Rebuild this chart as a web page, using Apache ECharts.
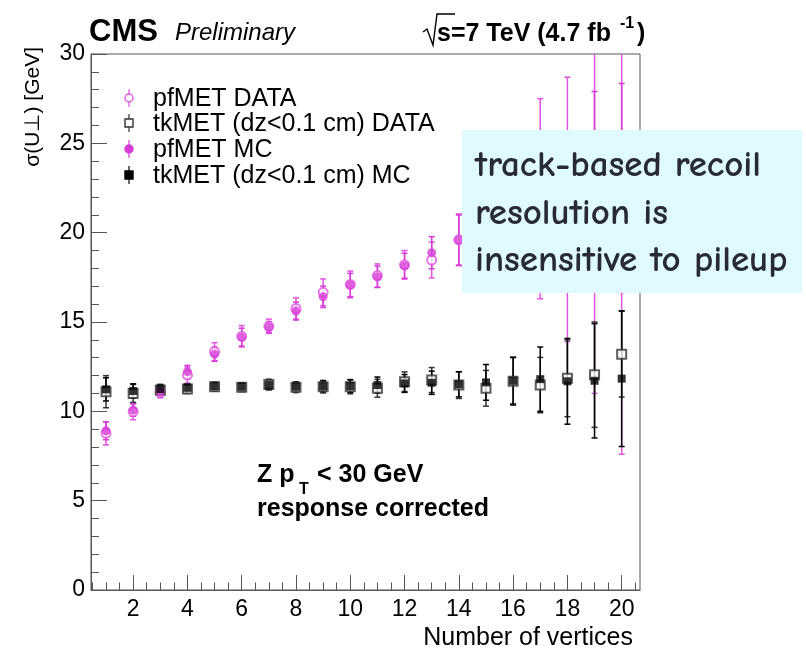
<!DOCTYPE html>
<html><head><meta charset="utf-8">
<script src="https://cdn.jsdelivr.net/npm/echarts@6/dist/echarts.min.js"></script>
<style>html,body{margin:0;padding:0;background:#fff}#c{width:806px;height:650px}</style>
</head><body><div id="c"></div>
<script>
const nVertices = [1,2,3,4,5,6,7,8,9,10,11,12,13,14,15,16,17,18,19,20];
const pfData    = [8.77,9.98,11.05,12.03,13.34,14.2,14.76,15.76,16.66,17.1,17.6,18.2,18.47,19.6,20.6,21.2,21.9,21.3,20.9,19.5];
const pfDataErr = [0.65,0.45,0.3,0.45,0.5,0.6,0.4,0.6,0.75,0.75,0.65,0.8,1.0,1.45,2.2,3.3,5.6,7.4,9.9,11.9];
const tkData    = [11.1,11.0,11.2,11.25,11.38,11.35,11.5,11.35,11.38,11.38,11.29,11.66,11.75,11.47,11.29,11.69,11.47,11.85,12.05,13.2];
const tkDataErr = [0.9,0.5,0.3,0.25,0.25,0.25,0.3,0.3,0.35,0.4,0.5,0.55,0.7,0.75,1.0,1.35,1.55,2.15,2.95,2.4];
const pfMC      = [8.91,10.07,11.12,12.22,13.2,14.15,14.72,15.61,16.41,17.07,17.53,18.15,18.88,19.59,20.3,20.9,21.5,21.9,22.4,22.5];
const pfMCErr   = [0.5,0.35,0.25,0.35,0.4,0.5,0.3,0.5,0.6,0.65,0.6,0.7,0.9,1.4,1.7,2.2,3.0,3.6,5.5,5.85];
const tkMC      = [11.23,11.14,11.25,11.32,11.41,11.38,11.47,11.38,11.4,11.41,11.47,11.56,11.6,11.51,11.62,11.71,11.8,11.68,11.71,11.83];
const tkMCErr   = [0.65,0.4,0.25,0.2,0.2,0.2,0.25,0.25,0.3,0.35,0.45,0.5,0.65,0.7,1.0,1.3,1.8,2.4,3.2,3.8];
const xMajorTicks = [2,4,6,8,10,12,14,16,18,20];
const xMinorTicks = [0.5,1,1.5,2,2.5,3,3.5,4,4.5,5,5.5,6,6.5,7,7.5,8,8.5,9,9.5,10,10.5,11,11.5,12,12.5,13,13.5,14,14.5,15,15.5,16,16.5,17,17.5,18,18.5,19,19.5,20,20.5];
const legendNames = ['pfMET DATA','tkMET (dz<0.1 cm) DATA','pfMET MC','tkMET (dz<0.1 cm) MC'];

const MAG_D = '#e055e0', MAG_M = '#d63cd6', BLK_D = '#333333', BLK_M = '#000000';
const FONT = '"Liberation Sans", Arial, Helvetica, sans-serif';
const NOTE_FONT = 'bold 37px "Comic Neue", "Noto Sans", sans-serif';

function pts(vals){ return nVertices.map((x,i)=>[x, vals[i]]); }
function errs(vals, e){ return nVertices.map((x,i)=>[x, vals[i], e[i]]); }

function errSeries(name, vals, e, color, z){
  return {
    type:'custom', name: name+' err', clip:true, z:z, silent:true,
    data: errs(vals, e), encode:{x:0,y:1},
    renderItem: function(params, api){
      const x = api.value(0), v = api.value(1), d = api.value(2);
      const t = api.coord([x, v+d]), b = api.coord([x, v-d]);
      const st = {stroke: color, lineWidth: 1.5};
      return {type:'group', children:[
        {type:'line', shape:{x1:t[0],y1:t[1],x2:b[0],y2:b[1]}, style:st},
        {type:'line', shape:{x1:t[0]-3,y1:t[1],x2:t[0]+3,y2:t[1]}, style:st},
        {type:'line', shape:{x1:b[0]-3,y1:b[1],x2:b[0]+3,y2:b[1]}, style:st}
      ]};
    }
  };
}
function markSeries(name, vals, symbol, size, color, z, empty){
  return {
    type:'scatter', name:name, data: pts(vals), symbol: symbol, symbolSize: size, z:z,
    itemStyle: empty ? {color: color, borderColor: color, borderWidth: 1.5} : {color: color},
    emphasis:{disabled:true}
  };
}

const chart = echarts.init(document.getElementById('c'), null, {renderer:'canvas'});

const legendY = [98, 123, 149, 175];
const legendGraphics = [];
const legStyle = [
  {sym:'circle', empty:true, color:MAG_D},
  {sym:'rect', empty:true, color:BLK_D},
  {sym:'circle', empty:false, color:MAG_M},
  {sym:'rect', empty:false, color:BLK_M}
];
legendNames.forEach((n,i)=>{
  const y = legendY[i], s = legStyle[i];
  legendGraphics.push({type:'line', shape:{x1:129,y1:y-9,x2:129,y2:y+9}, style:{stroke:s.color, lineWidth:1.2}, z:100});
  if (s.sym==='circle') {
    legendGraphics.push({type:'circle', shape:{cx:129, cy:y, r:4}, style:{fill: s.empty?'#fff':s.color, stroke:s.color, lineWidth:1.4}, z:101});
  } else {
    legendGraphics.push({type:'rect', shape:{x:125, y:y-4, width:8, height:8}, style:{fill: s.empty?'#fff':s.color, stroke:s.color, lineWidth:1.4}, z:101});
  }
  legendGraphics.push({type:'text', x:153, y:y+1, style:{text:n, font:'25px '+FONT, fill:'#000', textVerticalAlign:'middle'}, z:101});
});

const option = {
  animation:false,
  backgroundColor:'#fff',
  grid:{left:91, right:166, top:54, bottom:60, show:true, borderColor:'#555', borderWidth:1, containLabel:false},
  xAxis:[
    {type:'value', min:0.447, max:20.675,
     axisLine:{show:true, lineStyle:{color:'#555', width:1}},
     axisTick:{show:true, inside:true, length:15, customValues:xMajorTicks, lineStyle:{color:'#555', width:1}},
     axisLabel:{show:true, customValues:xMajorTicks, margin:8, fontSize:23, fontFamily:FONT, color:'#000'},
     splitLine:{show:false}},
    {type:'value', min:0.447, max:20.675, position:'bottom',
     axisLine:{show:false},
     axisTick:{show:true, inside:true, length:7.5, customValues:xMinorTicks, lineStyle:{color:'#555', width:1}},
     axisLabel:{show:false}, splitLine:{show:false}}
  ],
  yAxis:{type:'value', min:0, max:30, interval:5,
     axisLine:{show:true, lineStyle:{color:'#555', width:1}},
     axisTick:{show:true, inside:true, length:16, lineStyle:{color:'#555', width:1}},
     minorTick:{show:true, splitNumber:5, length:8, lineStyle:{color:'#555', width:1}},
     axisLabel:{margin:6, fontSize:23, fontFamily:FONT, color:'#000'},
     splitLine:{show:false}},
  series:[
    errSeries('pfMET DATA', pfData, pfDataErr, MAG_D, 2),
    errSeries('tkMET DATA', tkData, tkDataErr, BLK_D, 2),
    errSeries('pfMET MC', pfMC, pfMCErr, MAG_M, 3),
    errSeries('tkMET MC', tkMC, tkMCErr, BLK_M, 3),
    markSeries(legendNames[0], pfData, 'emptyCircle', 9, MAG_D, 4, true),
    markSeries(legendNames[1], tkData, 'emptyRect', 9, BLK_D, 4, true),
    markSeries(legendNames[2], pfMC, 'circle', 9, MAG_M, 5, false),
    markSeries(legendNames[3], tkMC, 'rect', 8, BLK_M, 5, false)
  ],
  graphic:[
    {type:'text', x:89, y:32, style:{text:'CMS', font:'bold 31px '+FONT, fill:'#000', textVerticalAlign:'middle'}},
    {type:'text', x:175, y:33, style:{text:'Preliminary', font:'italic 24px '+FONT, fill:'#000', textVerticalAlign:'middle'}},
    {type:'polyline', shape:{points:[[423,32],[427,29],[433,45],[437,14],[455,14]]}, style:{stroke:'#000', lineWidth:1.4, fill:null}},
    {type:'text', x:437, y:34, style:{text:'s=7 TeV (4.7 fb', font:'bold 25px '+FONT, fill:'#000', textVerticalAlign:'middle'}},
    {type:'text', x:620, y:24, style:{text:'-1', font:'bold 16px '+FONT, fill:'#000', textVerticalAlign:'middle'}},
    {type:'text', x:637, y:34, style:{text:')', font:'bold 25px '+FONT, fill:'#000', textVerticalAlign:'middle'}},
    {type:'text', x:33, y:47, rotation:Math.PI/2, style:{text:'σ(U⊥) [GeV]', font:'21px '+FONT, fill:'#000', textAlign:'right', textVerticalAlign:'middle'}},
    {type:'text', x:633, y:638, style:{text:'Number of vertices', font:'25px '+FONT, fill:'#000', textAlign:'right', textVerticalAlign:'middle'}},
    {type:'text', x:257, y:475, style:{text:'Z p', font:'bold 25px '+FONT, fill:'#000', textVerticalAlign:'middle'}},
    {type:'text', x:299, y:490, style:{text:'T', font:'bold 16px '+FONT, fill:'#000', textVerticalAlign:'middle'}},
    {type:'text', x:317, y:475, style:{text:'< 30 GeV', font:'bold 25px '+FONT, fill:'#000', textVerticalAlign:'middle'}},
    {type:'text', x:257, y:509, style:{text:'response corrected', font:'bold 25px '+FONT, fill:'#000', textVerticalAlign:'middle'}},
    ...legendGraphics,
    {type:'rect', shape:{x:462, y:130, width:340, height:163}, style:{fill:'#e0fbff'}, z:200},
    {type:'text', x:475, y:166, z:201, style:{text:'track-based recoil', font:NOTE_FONT, fill:'#2a2a36', textVerticalAlign:'middle'}},
    {type:'text', x:475, y:214, z:201, style:{text:'resolution is', font:NOTE_FONT, fill:'#2a2a36', textVerticalAlign:'middle'}},
    {type:'text', x:475, y:261, z:201, style:{text:'insensitive to pileup', font:NOTE_FONT, fill:'#2a2a36', textVerticalAlign:'middle'}}
  ]
};
chart.setOption(option);
</script></body></html>
